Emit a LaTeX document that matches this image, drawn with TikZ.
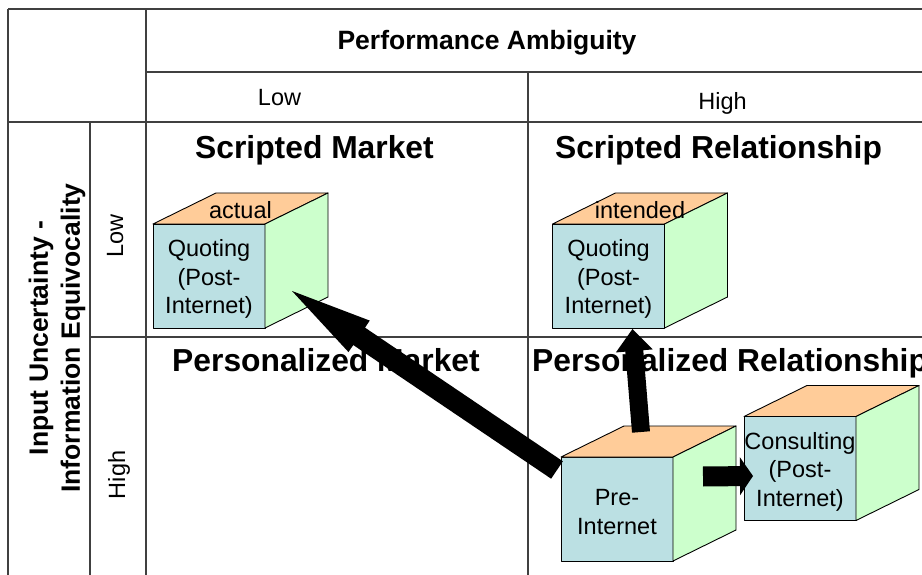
\documentclass[tikz,border=0pt]{standalone}
\usepackage{fontspec}
\setmainfont{Liberation Sans}
\usetikzlibrary{calc}

\definecolor{frontblue}{HTML}{BBE0E3}
\definecolor{toppeach}{HTML}{FFCC99}
\definecolor{sidegreen}{HTML}{CCFFCC}
\definecolor{gridgray}{HTML}{404040}

% top and side faces of a box whose front face is the node #1
\newcommand\cubefaces[1]{%
  \filldraw[facepen, fill=toppeach] (#1.north west) -- ++(63,-31) -- ++(112,0) -- (#1.north east) -- cycle;
  \filldraw[facepen, fill=sidegreen] (#1.north east) -- ++(63,-31) -- ++(0,104) -- (#1.south east) -- cycle;
}

% filled block arrow: tail, tip, shaft half-width, head half-width, head length
\newcommand\blockarrow[5]{%
  \coordinate (ba-h) at ($(#2)!#5!(#1)$);
  \fill[arrowfill] (#2)
    -- ($(ba-h)!#4!90:(#1)$) -- ($(ba-h)!#3!90:(#1)$)
    -- ($(#1)!#3!-90:(#2)$) -- ($(#1)!#3!90:(#2)$)
    -- ($(ba-h)!#3!-90:(#1)$) -- ($(ba-h)!#4!-90:(#1)$) -- cycle;
}

\tikzset{
  gridline/.style={draw=gridgray, line width=1.3pt},
  facepen/.style={draw=black, line width=0.9pt, line join=round},
  frontface/.style={facepen, fill=frontblue, minimum width=112pt, minimum height=104pt,
    inner sep=0pt, outer sep=0pt},
  boxtext/.style={inner sep=0pt, align=center, font=\fontsize{23.5}{28.5}\selectfont},
  toptext/.style={inner sep=0pt, font=\fontsize{23.5}{28}\selectfont},
  quadtitle/.style={inner sep=0pt, font=\fontsize{31.8}{36}\selectfont\bfseries},
  axistitle/.style={inner sep=0pt, align=center, font=\fontsize{26.5}{32}\selectfont\bfseries},
  levellabel/.style={inner sep=0pt, font=\fontsize{23.5}{28}\selectfont},
  arrowfill/.style={fill=black},
}

\begin{document}
\begin{tikzpicture}[x=1pt, y=-1pt]
\useasboundingbox (0,0) rectangle (922,575);
\clip (0,0) rectangle (922,575);
\fill[white] (0,0) rectangle (922,575);

% table rules
\draw[gridline] (8,9) -- (922,9);
\draw[gridline] (8,9) -- (8,575);
\draw[gridline] (146,9) -- (146,575);
\draw[gridline] (146,72) -- (922,72);
\draw[gridline] (8,122) -- (922,122);
\draw[gridline] (528,72) -- (528,575);
\draw[gridline] (90,122) -- (90,575);
\draw[gridline] (90,337) -- (922,337);

% headings
\node[axistitle, anchor=base] (perf) at (487,50) {Performance Ambiguity};
\node[levellabel, anchor=base] (colLow) at (279.5,106) {Low};
\node[levellabel, anchor=base] (colHigh) at (722.5,110) {High};
\node[axistitle, rotate=90] (input) at (57,338) {Input Uncertainty -\\Information Equivocality};
\node[levellabel, rotate=90, anchor=base] (rowLow) at (123,236) {Low};
\node[levellabel, rotate=90, anchor=base] (rowHigh) at (125,475) {High};

% quadrant titles
\node[quadtitle, anchor=base] (tSM) at (314.5,159) {Scripted Market};
\node[quadtitle, anchor=base] (tSR) at (718.5,159) {Scripted Relationship};
\node[quadtitle, anchor=base] (tPM) at (326,371) {Personalized Market};
\node[quadtitle, anchor=base west] (tPR) at (532,371) {Personalized Relationship};

% boxes
\node[frontface] (q1) at (209,276) {};
\cubefaces{q1}
\node[boxtext] (q1txt) at ($(q1.center)+(0,3)$) {Quoting\\(Post-\\Internet)};
\node[toptext] (q1top) at ($(q1.north)+(31.5,-14)$) {actual};

\node[frontface] (q2) at (608.5,276) {};
\cubefaces{q2}
\node[boxtext] (q2txt) at ($(q2.center)+(0,3)$) {Quoting\\(Post-\\Internet)};
\node[toptext] (q2top) at ($(q2.north)+(31.5,-14)$) {intended};

\node[frontface] (pre) at (617,509) {};
\cubefaces{pre}
\node[boxtext] (pretxt) at ($(pre.center)+(0,3)$) {Pre-\\Internet};

\node[frontface] (cons) at (800,468.5) {};
\cubefaces{cons}
\node[boxtext] (constxt) at ($(cons.center)+(0,3)$) {Consulting\\(Post-\\Internet)};

% transitions
\coordinate (a1tail) at ($(pre.north west)+(-4,13)$);
\coordinate (a1tip) at ($(q1.north east)+(27,67)$);
\blockarrow{a1tail}{a1tip}{10.5pt}{19pt}{81pt}

\coordinate (a2tail) at ($(pre.north)+(24,-25)$);
\coordinate (a2tip) at ($(q2.south)+(24,1)$);
\blockarrow{a2tail}{a2tip}{9pt}{18.5pt}{22pt}

\coordinate (a3tail) at ($(cons.west)+(-41,8)$);
\coordinate (a3tip) at ($(cons.west)+(9,7.5)$);
\blockarrow{a3tail}{a3tip}{10pt}{19pt}{13pt}
\end{tikzpicture}
\end{document}
